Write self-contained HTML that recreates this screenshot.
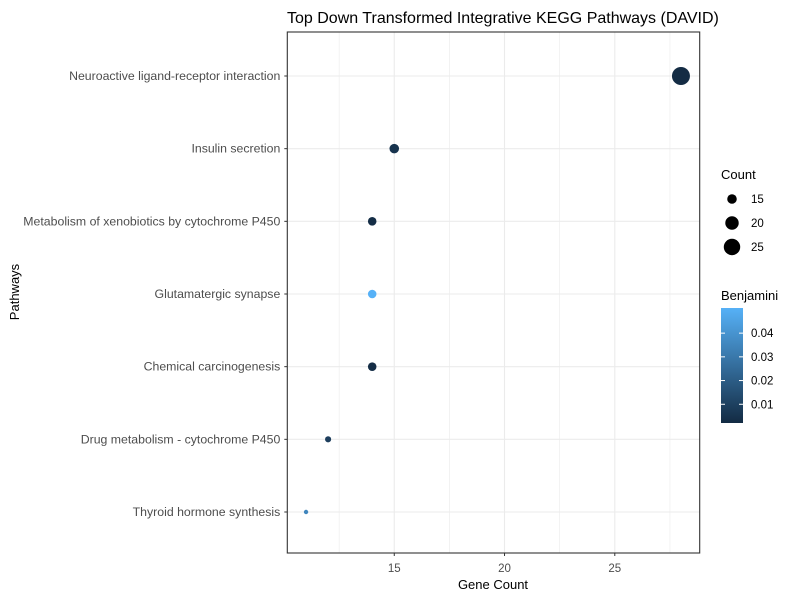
<!DOCTYPE html>
<html><head><meta charset="utf-8"><style>
body{margin:0;background:#fff;font-family:"Liberation Sans",Arial,sans-serif}
svg text{font-family:"Liberation Sans",Arial,sans-serif}
</style></head><body>
<svg id="chart" width="800" height="600" xmlns="http://www.w3.org/2000/svg">
<defs><linearGradient id="cb" x1="0" y1="1" x2="0" y2="0"><stop offset="0" stop-color="#132B43"/><stop offset="1" stop-color="#56B1F7"/></linearGradient></defs>
<text x="287" y="23" font-size="16" fill="#000">Top Down Transformed Integrative KEGG Pathways (DAVID)</text>
<g id="grid"></g><g id="pts"></g><g id="axes"></g>
<text x="493" y="589" font-size="13" text-anchor="middle">Gene Count</text>
<text transform="translate(19,292) rotate(-90)" font-size="13" text-anchor="middle">Pathways</text>
<g>
<text x="721" y="179" font-size="13">Count</text>
<g id="sizeleg"></g></g>
<g>
<text x="721" y="300" font-size="13">Benjamini</text>
<rect x="721" y="308" width="22" height="115" fill="url(#cb)"/>
<g id="cbticks"></g></g>
</svg>
<script>
const categories=["Neuroactive ligand-receptor interaction","Insulin secretion","Metabolism of xenobiotics by cytochrome P450","Glutamatergic synapse","Chemical carcinogenesis","Drug metabolism - cytochrome P450","Thyroid hormone synthesis"];
const counts=[28,15,14,14,14,12,11];
const benjamini=[0.0025,0.005,0.003,0.0506,0.003,0.009,0.035];
const xTicks=[15,20,25];
const sizeLegend=[15,20,25];
const colorTicks=[0.01,0.02,0.03,0.04];
const NS="http://www.w3.org/2000/svg";
const L=287.3,R=699.7,T=32,B=553;
const xmin=10.15,xmax=28.85;
const x=v=>L+(v-xmin)/(xmax-xmin)*(R-L);
const Y0=76,Y1=512;
const y=i=>Y0+(Y1-Y0)*i/(categories.length-1);
const r=v=>Math.sqrt(4.84+4.48*(v-11));
const bmin=0.0021,bmax=0.0506;
const cb=v=>423-(v-bmin)/(bmax-bmin)*115;
function col(v){const t=Math.max(0,Math.min(1,(v-bmin)/(bmax-bmin)));const a=[0x13,0x2B,0x43],b=[0x56,0xB1,0xF7];return "rgb("+a.map((c,i)=>Math.round(c+(b[i]-c)*t)).join(",")+")";}
function mk(tag,at,parent){const e=document.createElementNS(NS,tag);for(const k in at)e.setAttribute(k,at[k]);parent.appendChild(e);return e;}
const g=document.getElementById("grid"),p=document.getElementById("pts"),ax=document.getElementById("axes");
[12.5,17.5,22.5,27.5].forEach(v=>{const e=mk("line",{x1:x(v),x2:x(v),y1:T,y2:B,stroke:"#ebebeb","stroke-width":0.6},g);});
xTicks.forEach(v=>{const e=mk("line",{x1:x(v),x2:x(v),y1:T,y2:B,stroke:"#ebebeb","stroke-width":1.1},g);
mk("line",{x1:x(v),x2:x(v),y1:B,y2:B+3,stroke:"#333"},ax);
const t=mk("text",{x:x(v),y:B+19,"font-size":11.5,fill:"#4d4d4d","text-anchor":"middle"},ax);t.textContent=v;});
categories.forEach((c,i)=>{const e=mk("line",{x1:L,x2:R,y1:y(i),y2:y(i),stroke:"#ebebeb","stroke-width":1.1},g);
mk("line",{x1:L-3,x2:L,y1:y(i),y2:y(i),stroke:"#333"},ax);
const t=mk("text",{x:L-7,y:y(i)+4,"font-size":12.3,fill:"#4d4d4d","text-anchor":"end"},ax);t.textContent=c;
const d=mk("circle",{cx:x(counts[i]),cy:y(i),r:r(counts[i]),fill:col(benjamini[i])},p);});
const fr=mk("rect",{x:L,y:T,width:R-L,height:B-T,fill:"none",stroke:"#333","stroke-width":1.1},ax);
const sl=document.getElementById("sizeleg");
sizeLegend.forEach((v,i)=>{const cy=199+i*24;const c=mk("circle",{cx:732,cy:cy,r:r(v),fill:"#000"},sl);
const t=mk("text",{x:751,y:cy+4,"font-size":11.5},sl);t.textContent=v;});
const ct=document.getElementById("cbticks");
colorTicks.forEach(v=>{const yy=cb(v);mk("line",{x1:721,x2:725,y1:yy,y2:yy,stroke:"#fff"},ct);mk("line",{x1:739,x2:743,y1:yy,y2:yy,stroke:"#fff"},ct);
const t=mk("text",{x:751,y:yy+4,"font-size":11.5},ct);t.textContent=v.toFixed(2);});
</script>
</body></html>
